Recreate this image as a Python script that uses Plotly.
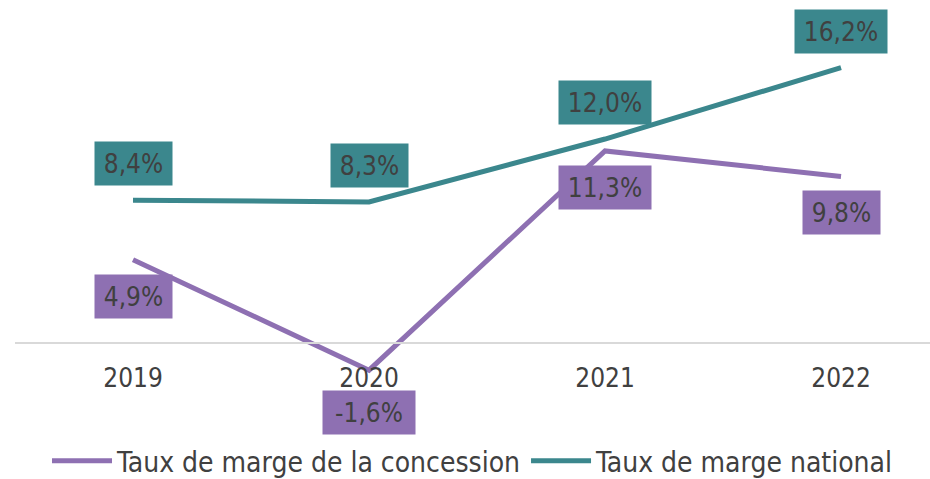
import plotly.graph_objects as go

annees = ['2019', '2020', '2021', '2022']
marge_concession = [4.9, -1.6, 11.3, 9.8]
marge_nationale = [8.4, 8.3, 12.0, 16.2]

VIOLET = '#8E70B2'
SARCELLE = '#3B878D'
TEXTE = '#404040'
POLICE = 'Liberation Sans Narrow, DejaVu Sans Condensed, Arial Narrow, sans-serif'

ymin, ymax = -4.53, 20.18


def etiquette(v):
    return f"{v:.1f}".replace('.', ',') + '%'


fig = go.Figure()

fig.add_trace(go.Scatter(
    x=annees, y=marge_concession, mode='lines',
    name='Taux de marge de la concession',
    line=dict(color=VIOLET, width=5),
))
fig.add_trace(go.Scatter(
    x=annees, y=marge_nationale, mode='lines',
    name='Taux de marge national',
    line=dict(color=SARCELLE, width=5),
))

# étiquettes de données (boîtes colorées) - x en index de catégorie
for serie, couleur, au_dessus in [(marge_concession, VIOLET, False),
                                  (marge_nationale, SARCELLE, True)]:
    for i, v in enumerate(serie):
        txt = etiquette(v)
        fig.add_annotation(
            x=i, y=v, text=txt, showarrow=False,
            font=dict(family=POLICE, size=26, color=TEXTE),
            bgcolor=couleur, width=15 * len(txt) + 17, height=43,
            borderpad=0,
            yanchor='bottom' if au_dessus else 'top',
            yshift=14 if au_dessus else (-20 if v < 0 else -14),
        )

fig.update_layout(
    width=930, height=479,
    margin=dict(l=15, r=0, t=0, b=59, autoexpand=False),
    plot_bgcolor='white', paper_bgcolor='white',
    font=dict(family=POLICE, size=26, color=TEXTE),
    showlegend=True,
    legend=dict(orientation='h', x=0.5, xanchor='center', y=-0.098, yanchor='middle',
                font=dict(size=28, color=TEXTE), itemwidth=60, tracegroupgap=0),
    xaxis=dict(type='category', range=[-0.5, 3.377], showgrid=False, showline=True,
               linecolor='#D9D9D9', linewidth=1.5, ticks='', automargin=False,
               anchor='free', position=-ymin / (ymax - ymin),
               ticklabelstandoff=12,
               tickfont=dict(size=26, color=TEXTE)),
    yaxis=dict(range=[ymin, ymax], visible=False, showgrid=False, zeroline=False),
)

fig.write_html("out.html", config={'displayModeBar': False},
               post_script="document.body.style.margin='0';")
